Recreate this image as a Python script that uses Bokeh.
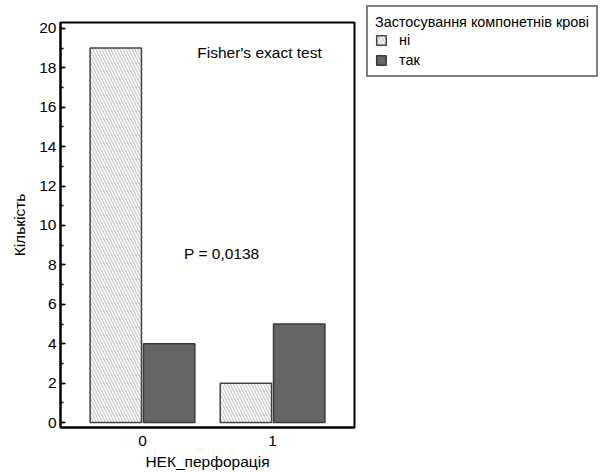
from bokeh.plotting import figure
from bokeh.models import (ColumnDataSource, Legend, LegendItem, Label, FixedTicker,
                          Range1d)
from bokeh.embed import file_html
from bokeh.resources import INLINE

# Data
groups = [0, 1]
tick_labels = {0: "0", 1: "1"}
series_names = ["ні", "так"]
counts_no = [19, 2]
counts_yes = [4, 5]

FONT = "Liberation Sans"
FS = "15.5px"
LEG_FS = "14.4px"

p = figure(frame_width=294, frame_height=405, output_backend="svg",
           toolbar_location=None,
           x_range=Range1d(-0.63, 1.63), y_range=Range1d(-0.25, 20.3),
           min_border_left=60, min_border_right=0, min_border_top=22,
           min_border_bottom=44)

p.xgrid.visible = False
p.ygrid.visible = False
p.outline_line_color = "black"
p.outline_line_width = 2
p.background_fill_color = "white"
p.border_fill_color = "white"

src_no = ColumnDataSource(dict(x=[g - 0.205 for g in groups], top=counts_no))
src_yes = ColumnDataSource(dict(x=[g + 0.205 for g in groups], top=counts_yes))

r_no = p.vbar(x="x", top="top", bottom=0, width=0.395, source=src_no,
              fill_color="white", line_color="#444444", line_width=1.5,
              hatch_pattern="left_diagonal_line", hatch_color="#cfcfcf",
              hatch_scale=6, hatch_weight=1.4)
r_yes = p.vbar(x="x", top="top", bottom=0, width=0.395, source=src_yes,
               fill_color="#666666", line_color="#383838", line_width=1.5)

# y axis
p.yaxis.ticker = FixedTicker(ticks=list(range(0, 21, 2)),
                             minor_ticks=list(range(0, 21, 1)))
p.yaxis.major_tick_in = 5
p.yaxis.major_tick_out = 0
p.yaxis.minor_tick_in = 3
p.yaxis.minor_tick_out = 0
p.yaxis.major_tick_line_color = "black"
p.yaxis.major_tick_line_width = 1.5
p.yaxis.minor_tick_line_color = "black"
p.yaxis.minor_tick_line_width = 1.5
p.yaxis.axis_line_color = "black"
p.yaxis.axis_line_width = 2
p.yaxis.major_label_text_font = FONT
p.yaxis.major_label_text_font_size = FS
p.yaxis.major_label_text_color = "black"
p.yaxis.major_label_standoff = 4
p.yaxis.axis_label = "Кількість"
p.yaxis.axis_label_text_font = FONT
p.yaxis.axis_label_text_font_size = FS
p.yaxis.axis_label_text_font_style = "normal"
p.yaxis.axis_label_text_color = "black"
p.yaxis.axis_label_standoff = 8

# x axis
p.xaxis.ticker = FixedTicker(ticks=groups)
p.xaxis.major_label_overrides = tick_labels
p.xaxis.major_tick_in = 0
p.xaxis.major_tick_out = 0
p.xaxis.minor_tick_line_color = None
p.xaxis.axis_line_color = "black"
p.xaxis.axis_line_width = 2
p.xaxis.major_label_text_font = FONT
p.xaxis.major_label_text_font_size = FS
p.xaxis.major_label_text_color = "black"
p.xaxis.major_label_standoff = 8
p.xaxis.axis_label = "НЕК_перфорація"
p.xaxis.axis_label_text_font = FONT
p.xaxis.axis_label_text_font_size = FS
p.xaxis.axis_label_text_font_style = "normal"
p.xaxis.axis_label_text_color = "black"
p.xaxis.axis_label_standoff = 4

# annotations
p.add_layout(Label(x=0.9, y=18.78, text="Fisher's exact test", text_align="center",
                   text_baseline="middle", text_font=FONT, text_font_size=FS,
                   text_color="black"))
p.add_layout(Label(x=0.61, y=8.58, text="P = 0,0138", text_align="center",
                   text_baseline="middle", text_font=FONT, text_font_size=FS,
                   text_color="black"))

legend = Legend(items=[LegendItem(label=series_names[0], renderers=[r_no]),
                       LegendItem(label=series_names[1], renderers=[r_yes])],
                location=(12, 350),
                title="Застосування компонетнів крові",
                title_text_font=FONT, title_text_font_size=LEG_FS,
                title_text_font_style="normal", title_text_color="black",
                title_standoff=2,
                label_text_font=FONT, label_text_font_size=LEG_FS,
                label_text_color="black",
                glyph_width=12, glyph_height=12, label_height=14,
                label_standoff=12, spacing=4, padding=7, margin=0,
                border_line_color="black", border_line_width=2,
                background_fill_color="white", background_fill_alpha=1)
p.add_layout(legend, "right")

open("out.html", "w").write(file_html(p, INLINE))
